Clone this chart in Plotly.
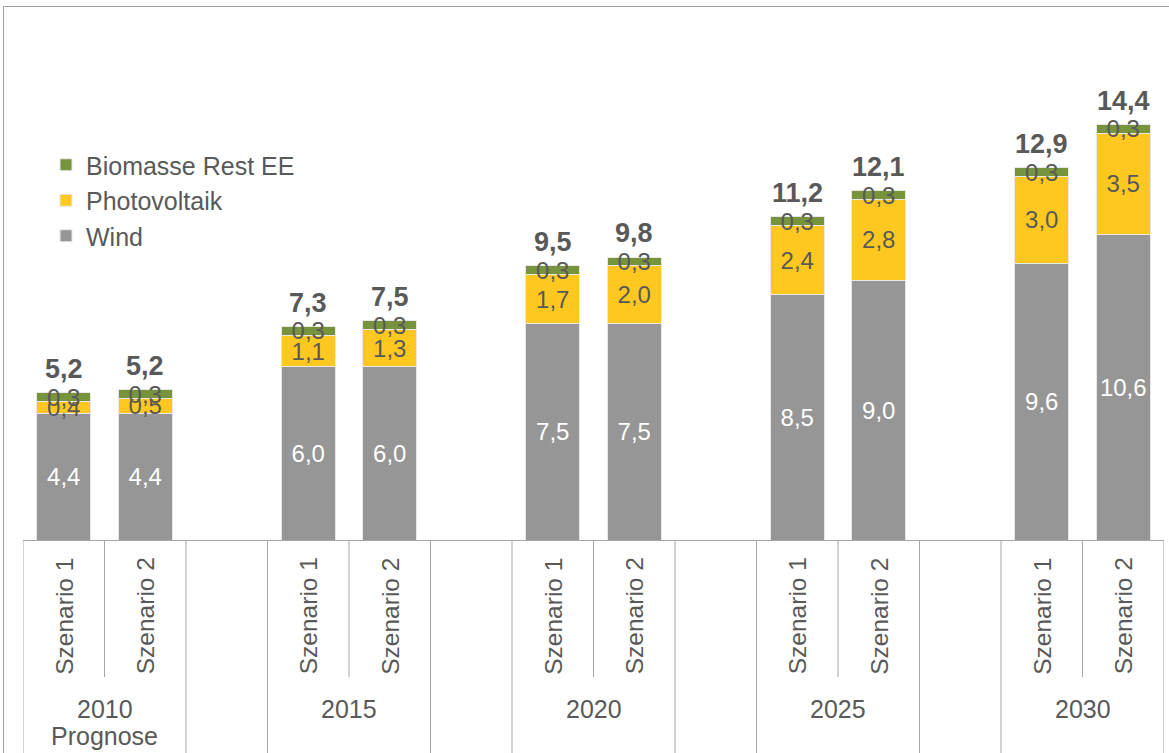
import plotly.graph_objects as go

# ---- data ----
years = ["2010", "2015", "2020", "2025", "2030"]
year_notes = ["Prognose", "", "", "", ""]
scenarios = ["Szenario 1", "Szenario 2"]

wind = [4.4, 4.4, 6.0, 6.0, 7.5, 7.5, 8.5, 9.0, 9.6, 10.6]
photovoltaik = [0.4, 0.5, 1.1, 1.3, 1.7, 2.0, 2.4, 2.8, 3.0, 3.5]
biomasse = [0.3, 0.3, 0.3, 0.3, 0.3, 0.3, 0.3, 0.3, 0.3, 0.3]
totals = [5.2, 5.2, 7.3, 7.5, 9.5, 9.8, 11.2, 12.1, 12.9, 14.4]

# ---- layout helpers ----
W, H = 1169, 753
ML, MR, MT, MB = 23, 5, 40, 213
PW, PH = W - ML - MR, H - MT - MB
slots_per_group = 3  # two scenarios + one empty slot
n_slots = len(years) * slots_per_group - 1

xpos = []
for g in range(len(years)):
    for s in range(len(scenarios)):
        xpos.append(g * slots_per_group + s)

def de(v):
    return f"{v:.1f}".replace(".", ",")

def py2paper(py):
    return (H - MB - py) / PH

def px2paper(px):
    return (px - ML) / PW

TXT = "#595959"
FONT = "Liberation Sans, Arial, sans-serif"
LINE = "#a6a6a6"

fig = go.Figure()
series = [
    ("Wind", wind, "#969696", "white"),
    ("Photovoltaik", photovoltaik, "#FFC820", TXT),
    ("Biomasse Rest EE", biomasse, "#77933C", TXT),
]
for name, vals, col, tcol in series:
    fig.add_trace(go.Bar(
        name=name, x=xpos, y=vals,
        marker=dict(color=col, line=dict(color="#e8e8e8", width=1)),
        text=[de(v) for v in vals],
        textposition="inside", insidetextanchor="middle",
        constraintext="none",
        textfont=dict(family=FONT, size=24, color=tcol),
        hoverinfo="skip",
    ))

annotations = []
# totals
for i, x in enumerate(xpos):
    top = wind[i] + photovoltaik[i] + biomasse[i]
    annotations.append(dict(
        x=x, y=top, xref="x", yref="y", text="<b>" + de(totals[i]) + "</b>",
        showarrow=False, yanchor="bottom", yshift=7,
        font=dict(family=FONT, size=27, color=TXT),
    ))
# scenario labels (rotated) and year labels
for g in range(len(years)):
    for s, sc in enumerate(scenarios):
        annotations.append(dict(
            x=g * slots_per_group + s, y=py2paper(616), xref="x", yref="paper",
            text=sc, textangle=-90, showarrow=False,
            xanchor="center", yanchor="middle",
            font=dict(family=FONT, size=24.5, color=TXT),
        ))
    annotations.append(dict(
        x=g * slots_per_group + 0.5, y=py2paper(709), xref="x", yref="paper",
        text=years[g], showarrow=False, xanchor="center", yanchor="middle",
        font=dict(family=FONT, size=25, color=TXT),
    ))
    if year_notes[g]:
        annotations.append(dict(
            x=g * slots_per_group + 0.5, y=py2paper(736), xref="x", yref="paper",
            text=year_notes[g], showarrow=False, xanchor="center", yanchor="middle",
            font=dict(family=FONT, size=25, color=TXT),
        ))

shapes = []
# full-height separators
full = [-0.5]
for g in range(len(years)):
    b = g * slots_per_group
    full.append(b + 1.5)
    if g < len(years) - 1:
        full.append(b + 2.5)
for xv in full:
    shapes.append(dict(type="line", xref="x", yref="paper", x0=xv, x1=xv,
                       y0=0, y1=py2paper(H + 5), line=dict(color=LINE, width=1)))
# short separators between scenarios
for g in range(len(years)):
    xv = g * slots_per_group + 0.5
    shapes.append(dict(type="line", xref="x", yref="paper", x0=xv, x1=xv,
                       y0=0, y1=py2paper(677), line=dict(color=LINE, width=1)))
# outer chart border (top and left)
shapes.append(dict(type="line", xref="paper", yref="paper",
                   x0=px2paper(3), x1=px2paper(W + 5), y0=py2paper(6.5), y1=py2paper(6.5),
                   line=dict(color="#a0a0a0", width=1)))
shapes.append(dict(type="line", xref="paper", yref="paper",
                   x0=px2paper(3.5), x1=px2paper(3.5), y0=py2paper(6), y1=py2paper(H + 5),
                   line=dict(color="#a0a0a0", width=1)))

ymax = PH / 28.85

fig.update_layout(
    width=W, height=H,
    margin=dict(l=ML, r=MR, t=MT, b=MB),
    barmode="stack", bargap=0.34,
    plot_bgcolor="white", paper_bgcolor="white",
    font=dict(family=FONT, color=TXT),
    xaxis=dict(range=[-0.5, n_slots - 0.5], showticklabels=False, showgrid=False,
               zeroline=False, showline=True, linecolor=LINE, linewidth=1, ticks=""),
    yaxis=dict(range=[0, ymax], visible=False),
    legend=dict(x=px2paper(46), y=py2paper(142), xanchor="left", yanchor="top",
                traceorder="reversed", font=dict(family=FONT, size=25, color=TXT),
                bgcolor="rgba(0,0,0,0)", itemwidth=30, tracegroupgap=0),
    annotations=annotations,
    shapes=shapes,
    showlegend=True,
)

fig.write_html("out.html", config={"displayModeBar": False},
               post_script="document.body.style.margin='0px';")
